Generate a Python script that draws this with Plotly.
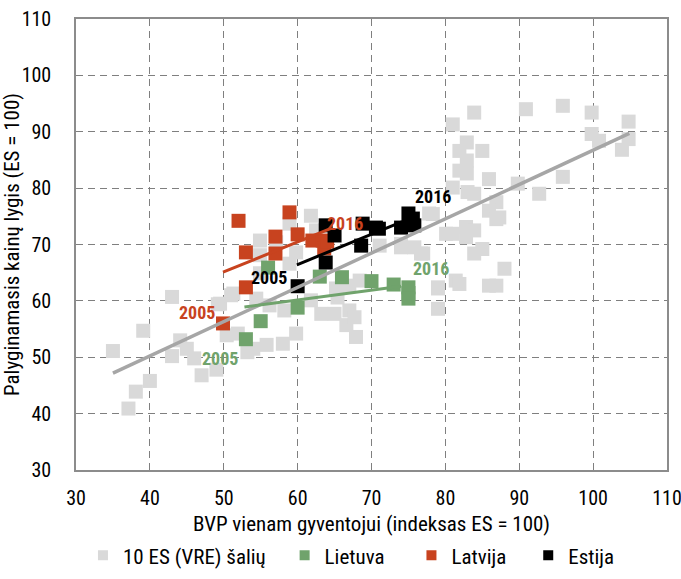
import plotly.graph_objects as go

# ---- data ----
gray_x = [35, 37.1, 38.1, 39.1, 40, 43, 43, 44.1, 45, 46, 47, 49, 49.2, 50.4, 51.3, 51.9, 53.2, 54,
          55.8, 58, 59.8, 49.5, 54.4, 56.2, 58.2, 61.8, 63.2, 65, 66.6, 67, 67.7, 67.9, 65.4, 67,
          68.4, 65.2, 58.9, 61.8, 54.9, 57.1, 54.9, 58.9, 59.8, 54.9, 51, 62.5, 78.3, 80.1, 74,
          75.8, 76.7, 71.1, 79, 79, 81.4, 83.9, 81, 82.9, 81.9, 85, 82.9, 81.9, 82.9, 85.9, 81, 83,
          83.9, 89.8, 92.7, 86.9, 85.9, 86.9, 81, 82.8, 82.8, 83.9, 83.9, 85, 88, 81.9, 85.9, 86.9,
          79, 90.9, 95.9, 99.8, 104.8, 99.8, 100.8, 104.8, 103.9, 95.9, 87.3, 77.8, 77, 74]
gray_y = [51.1, 40.9, 43.9, 54.7, 45.8, 60.7, 50.2, 53, 51.5, 49.8, 46.8, 47.8, 59.4, 53.9, 61.3,
          54.2, 50.9, 51.5, 52.2, 52.4, 54.2, 59.5, 60.4, 59.2, 58.3, 60.1, 57.7, 57.7, 55.7, 58.3,
          57.1, 53.6, 60.6, 62.7, 63.6, 62.2, 73.7, 75.1, 70.7, 70.4, 68.1, 66.6, 68.6, 64.9, 61,
          72.5, 75.4, 71.9, 69.5, 69.5, 68.4, 69.8, 62.2, 58.6, 63.6, 93.4, 91.3, 88.1, 86.6, 86.6,
          84.9, 83.1, 82.6, 81.6, 80.1, 79.3, 79, 80.8, 79, 77.5, 76, 74.5, 71.9, 73.1, 71.3, 72.5,
          68.4, 69.2, 65.7, 63, 62.7, 62.7, 62.4, 94, 94.6, 93.4, 91.8, 89.6, 88.4, 88.7, 86.8, 82,
          74.8, 75.5, 68.4, 70.1]

lt_x = [53, 55, 60, 56, 63, 66, 70, 73, 75, 75, 75]
lt_y = [53.2, 56.4, 58.8, 65.9, 64.3, 64.2, 63.5, 62.9, 62.4, 61.4, 60.4]

lv_x = [49.9, 53, 53, 52, 57, 57, 58.9, 60, 62, 63.4, 63.6, 64]
lv_y = [56.0, 62.4, 68.6, 74.2, 71.4, 68.4, 75.7, 71.8, 70.7, 70.7, 69.3, 70.5]

ee_x = [60, 63.8, 63.8, 65, 68.6, 68.8, 70.6, 71, 74, 75, 75.6, 75.8]
ee_y = [62.6, 66.8, 73.4, 71.6, 69.8, 73.7, 73, 72.8, 73, 75.5, 74.6, 73.4]

# trend line end points
trend_gray_x, trend_gray_y = [35, 104.9], [47.2, 89.7]
trend_lt_x, trend_lt_y = [52.8, 74], [58.9, 62.6]
trend_lv_x, trend_lv_y = [49.9, 64.6], [65.1, 72.9]
trend_ee_x, trend_ee_y = [59.9, 75], [66.4, 74.5]

series_names = ["10 ES (VRE) šalių", "Lietuva", "Latvija", "Estija"]

# ---- styling ----
C_GRAY, C_LT, C_LV, C_EE = "#d9d9d9", "#70a36c", "#c8431f", "#000000"
FONT = "Liberation Sans Narrow, Arial Narrow, Roboto Condensed, Liberation Sans, Arial, sans-serif"
FS = 21
TFS = 20
MS = 14

fig = go.Figure()
for xs, ys, col in [(gray_x, gray_y, C_GRAY), (lt_x, lt_y, C_LT), (lv_x, lv_y, C_LV), (ee_x, ee_y, C_EE)]:
    fig.add_trace(go.Scatter(x=xs, y=ys, mode="markers", showlegend=False, hoverinfo="skip",
                             marker=dict(symbol="square", size=MS, color=col, line=dict(width=0))))

for xs, ys, col, w in [(trend_gray_x, trend_gray_y, "#a6a6a6", 3.5), (trend_lt_x, trend_lt_y, C_LT, 3),
                       (trend_lv_x, trend_lv_y, C_LV, 3), (trend_ee_x, trend_ee_y, C_EE, 3)]:
    fig.add_trace(go.Scatter(x=xs, y=ys, mode="lines", showlegend=False, hoverinfo="skip",
                             line=dict(color=col, width=w)))

# legend entries (one legend each, positioned like the reference)
leg_ids = ["legend", "legend2", "legend3", "legend4"]
leg_x = [0.0118, 0.353, 0.5676, 0.7652]
for name, col, lid in zip(series_names, [C_GRAY, C_LT, C_LV, C_EE], leg_ids):
    fig.add_trace(go.Scatter(x=[None], y=[None], mode="markers", name=name, legend=lid,
                             marker=dict(symbol="square", size=10, color=col, line=dict(width=0))))

legend_cfg = {}
for lid, lx in zip(leg_ids, leg_x):
    legend_cfg[lid] = dict(x=lx, y=-0.19, xanchor="left", yanchor="middle", orientation="h",
                           bgcolor="rgba(0,0,0,0)", font=dict(family=FONT, size=FS, color="#000"),
                           itemwidth=30, tracegroupgap=0)

# year labels
labels = [(46.4, 58.0, "2005", C_LV), (66.4, 73.8, "2016", C_LV),
          (49.5, 49.8, "2005", C_LT), (78.1, 65.7, "2016", C_LT),
          (56.1, 64.2, "2005", C_EE), (78.3, 78.5, "2016", C_EE)]
annotations = [dict(x=x, y=y, text=f"<b>{t}</b>", showarrow=False, xref="x", yref="y",
                    font=dict(family=FONT, size=18, color=c)) for x, y, t, c in labels]

axis_common = dict(range=[30, 110], dtick=10, tick0=30, showgrid=True, gridcolor="#7f7f7f",
                   gridwidth=1.3, griddash="7px,5px", showline=True, linecolor="#8c8c8c",
                   linewidth=1.5, mirror=True, zeroline=False, ticks="",
                   ticklabeloverflow="allow",
                   tickfont=dict(family=FONT, size=TFS, color="#000"))

fig.update_layout(
    width=681, height=579,
    margin=dict(l=76, r=14, t=19, b=109, autoexpand=False),
    paper_bgcolor="white", plot_bgcolor="white",
    xaxis=dict(**axis_common, ticklabelstandoff=9,
               title=dict(text="BVP vienam gyventojui (indeksas ES = 100)",
                          font=dict(family=FONT, size=FS, color="#000"), standoff=8)),
    yaxis=dict(**axis_common, ticklabelstandoff=19,
               title=dict(text="Palyginamasis kainų lygis (ES = 100)",
                          font=dict(family=FONT, size=FS, color="#000"), standoff=0)),
    annotations=annotations,
    **legend_cfg,
)

# remove the page's default body margin so the 681x579 figure fills the window exactly
fig.write_html("out.html", config={"displayModeBar": False},
               post_script="document.body.style.margin='0';document.body.style.overflow='hidden';")
